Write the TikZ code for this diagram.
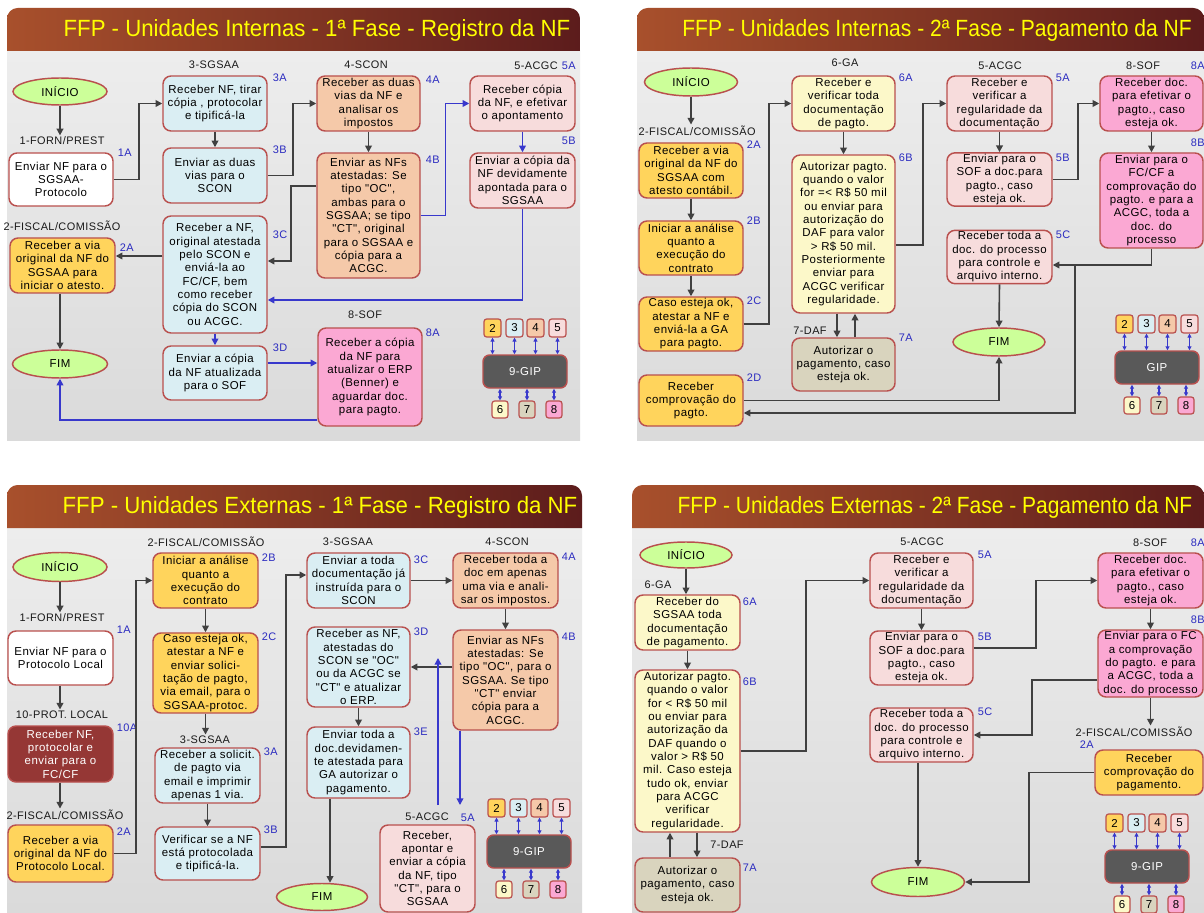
\documentclass[tikz,border=0pt]{standalone}
\usepackage{fontspec}
\setmainfont{Liberation Sans}
\newfontfamily\bxfont{Liberation Sans}[LetterSpace=4]
\usetikzlibrary{shapes.geometric,arrows.meta}
\definecolor{bord}{HTML}{B9504E}
\definecolor{corange}{HTML}{FFD45C}
\definecolor{cblue}{HTML}{DAEEF3}
\definecolor{cpeach}{HTML}{F5C9A9}
\definecolor{clpink}{HTML}{F7DCDC}
\definecolor{cpink}{HTML}{FBA8D3}
\definecolor{clyellow}{HTML}{FCF8C9}
\definecolor{ckhaki}{HTML}{D9D4BE}
\definecolor{cdred}{HTML}{953735}
\definecolor{cgreen}{HTML}{CCFF99}
\definecolor{cgip}{HTML}{595959}
\definecolor{agray}{HTML}{404040}
\definecolor{ablue}{HTML}{3838CC}
\definecolor{idblue}{HTML}{2B2BC0}
\definecolor{tleft}{HTML}{A8502C}
\definecolor{tright}{HTML}{5C1C1C}
\definecolor{tyellow}{HTML}{FFFF00}
\definecolor{bgtop}{HTML}{EDEDED}
\definecolor{bgbot}{HTML}{DADADA}
\newcommand{\bx}[7]{%
 \pgfmathsetmacro{\bxcx}{((#2)+(#4))/2}%
 \pgfmathsetmacro{\bxcy}{((#3)+(#5))/2}%
 \pgfmathsetmacro{\bxw}{((#4)-(#2))*0.75}%
 \pgfmathsetmacro{\bxh}{((#5)-(#3))*0.75}%
 \node[stepbox,#6,minimum width=\bxw pt,minimum height=\bxh pt] (#1) at (\bxcx,\bxcy) {#7};}
\newcommand{\el}[6]{%
 \pgfmathsetmacro{\bxw}{(#4)*0.75}%
 \pgfmathsetmacro{\bxh}{(#5)*0.75}%
 \node[startend,minimum width=\bxw pt,minimum height=\bxh pt] (#1) at (#2,#3) {#6};}
\newcommand{\gipc}[4]{%
 \bx{#1-gip}{#2}{#3}{#2+84}{#3+33}{gipbox}{#4}
 \bx{#1-t2}{#2+1}{#3-36}{#2+18}{#3-18}{gsq,fill=corange}{2}
 \bx{#1-t3}{#2+23}{#3-36}{#2+40}{#3-18}{gsq,fill=cblue}{3}
 \bx{#1-t4}{#2+44}{#3-36}{#2+61}{#3-18}{gsq,fill=cpeach}{4}
 \bx{#1-t5}{#2+66}{#3-36}{#2+83}{#3-18}{gsq,fill=clpink}{5}
 \bx{#1-b6}{#2+9}{#3+46}{#2+25}{#3+63}{gsq,fill=clyellow}{6}
 \bx{#1-b7}{#2+36}{#3+46}{#2+52}{#3+63}{gsq,fill=ckhaki}{7}
 \bx{#1-b8}{#2+63}{#3+46}{#2+79}{#3+63}{gsq,fill=cpink}{8}
 \foreach \q in {t2,t3,t4,t5}{\draw[dbl] (#1-\q.south) -- (#1-\q.south |- #1-gip.north);}
 \foreach \q in {b6,b7,b8}{\draw[dbl] (#1-\q.north |- #1-gip.south) -- (#1-\q.north);}
}
\newcommand{\panel}[5]{%
 \shade[top color=bgtop,bottom color=bgbot] (#1,#4) rectangle (#3,#5);
 \shade[left color=tleft,right color=tright] (#1,#4) [rounded corners=8pt] -- (#1,#2) -- (#3,#2) [sharp corners] -- (#3,#4) -- cycle;
}
\begin{document}
\begin{tikzpicture}[x=0.75pt,y=-0.75pt,
 stepbox/.style={draw=bord,line width=1.1pt,rounded corners=6pt,align=center,
   font=\bxfont\fontsize{8.6}{10}\selectfont,inner sep=1pt,text=black},
 startend/.style={ellipse,draw=bord,line width=1.1pt,fill=cgreen,
   font=\bxfont\fontsize{8.6}{10}\selectfont,inner sep=0pt},
 gsq/.style={stepbox,rounded corners=2pt,line width=0.9pt,font=\bxfont\fontsize{8.6}{10}\selectfont},
 gipbox/.style={stepbox,fill=cgip,text=white,rounded corners=5pt},
 lane/.style={font=\bxfont\fontsize{8.2}{10}\selectfont,inner sep=1pt,text=black!90},
 stepid/.style={font=\bxfont\fontsize{8.2}{10}\selectfont,text=idblue,inner sep=0.5pt,anchor=west},
 ttl/.style={text=tyellow,inner sep=0pt,font=\fontsize{17}{20}\selectfont},
 arr/.style={draw=agray,line width=1.2pt,-{Triangle[length=5pt,width=5pt]}},
 barr/.style={draw=ablue,line width=1.1pt,-{Triangle[length=5pt,width=5pt]}},
 dbl/.style={draw=ablue,line width=0.8pt,{Triangle[length=3pt,width=3pt]}-{Triangle[length=3pt,width=3pt]}}]
\useasboundingbox (0,0) rectangle (1204,913);
\fill[white] (0,0) rectangle (1204,913);

% ================= PANEL A =================
\panel{7}{8}{580}{51}{440}
\node[ttl] (a-title) at (317,30) {\resizebox{380pt}{12.75pt}{FFP - Unidades Internas - 1ª Fase - Registro da NF}};
\el{a-ini}{60}{91.5}{94}{27}{INÍCIO}
\el{a-fim}{60}{364}{95}{28}{FIM}
\node[lane] (a-h1) at (62,141) {1-FORN/PREST};
\node[lane] (a-h2) at (62,226) {2-FISCAL/COMISSÃO};
\node[lane] (a-h3) at (214,65) {3-SGSAA};
\node[lane] (a-h4) at (366,65) {4-SCON};
\node[lane] (a-h5) at (536,66) {5-ACGC};
\node[lane] (a-h8) at (365,315) {8-SOF};
\bx{a1A}{9}{153}{113}{206}{fill=white}{Enviar NF para o\\SGSAA-\\Protocolo}
\bx{a2A}{10}{238}{115}{293}{fill=corange}{Receber a via\\original da NF do\\SGSAA para\\iniciar o atesto.}
\bx{a3A}{163}{76}{267}{131}{fill=cblue}{Receber NF, tirar\\cópia , protocolar\\e tipificá-la}
\bx{a3B}{163}{148}{267}{203}{fill=cblue}{Enviar as duas\\vias para o\\SCON}
\bx{a3C}{163}{216}{267}{333}{fill=cblue}{Receber a NF,\\original atestada\\pelo SCON e\\enviá-la ao\\FC/CF, bem\\como receber\\cópia do SCON\\ou ACGC.}
\bx{a3D}{163}{346}{267}{400}{fill=cblue}{Enviar a cópia\\da NF atualizada\\para o SOF}
\bx{a4A}{317}{76}{420}{131}{fill=cpeach}{Receber as duas\\vias da NF e\\analisar os\\impostos}
\bx{a4B}{317}{153}{420}{278}{fill=cpeach}{Enviar as NFs\\atestadas: Se\\tipo "OC",\\ambas para o\\SGSAA; se tipo\\"CT", original\\para o SGSAA e\\cópia para a\\ACGC.}
\bx{a5A}{470}{76}{575}{131}{fill=clpink}{Receber cópia\\da NF, e efetivar\\o apontamento}
\bx{a5B}{470}{153}{575}{208}{fill=clpink}{Enviar a cópia da\\NF devidamente\\apontada para o\\SGSAA}
\bx{a8A}{318}{328}{422}{426}{fill=cpink}{Receber a cópia\\da NF para\\atualizar o ERP\\(Benner) e\\aguardar doc.\\para pagto.}
\node[stepid] (a-i1A) at (117,153) {1A};
\node[stepid] (a-i2A) at (119,248) {2A};
\node[stepid] (a-i3A) at (272,78) {3A};
\node[stepid] (a-i3B) at (272,150) {3B};
\node[stepid] (a-i3C) at (272,235) {3C};
\node[stepid] (a-i3D) at (272,348) {3D};
\node[stepid] (a-i4A) at (425,80) {4A};
\node[stepid] (a-i4B) at (425,160) {4B};
\node[stepid] (a-i5A) at (561,66) {5A};
\node[stepid] (a-i5B) at (561,141) {5B};
\node[stepid] (a-i8A) at (425,333) {8A};
\coordinate (a-k1) at (0,186);
\coordinate (a-k2) at (0,261);
\coordinate (a-k3) at (0,300);
\coordinate (a-k4) at (0,256);
\coordinate (a-k5) at (0,363);
\coordinate (a-k6) at (0,420);
\draw[arr] (a-ini.south) -- (a-ini.south |- a-h1.north);
\draw[arr] (a1A.east) -- ++(25,0) |- (a3A.west);
\draw[arr] (a3A.south) -- (a3B.north);
\draw[arr] (a3B.east) -- ++(25,0) |- (a4A.west);
\draw[arr] (a4A.south) -- (a4B.north);
\draw[arr] (a4B.west |- a-k1) -- ++(-25,0) |- (a3C.east |- a-k2);
\draw[barr] (a4B.east) -- ++(25,0) |- (a5A.west);
\draw[barr] (a5A.south) -- (a5B.north);
\draw[barr] (a5B.south) |- (a3C.east |- a-k3);
\draw[arr] (a3C.west |- a-k4) -- (a2A.east |- a-k4);
\draw[barr] (a3C.south) -- (a3D.north);
\draw[barr] (a3D.east |- a-k5) -- (a8A.west |- a-k5);
\draw[arr] (a-fim.north |- a2A.south) -- (a-fim.north);
\draw[barr] (a8A.west |- a-k6) -| (a-fim.south);
\gipc{a}{483}{355}{9-GIP}

% ================= PANEL B =================
\panel{637}{8}{1204}{51}{440}
\node[ttl] (b-title) at (937,30) {\resizebox{382pt}{12.75pt}{FFP - Unidades Internas - 2ª Fase - Pagamento da NF}};
\el{b-ini}{691}{82}{93}{28}{INÍCIO}
\el{b-fim}{999}{342}{92}{28}{FIM}
\node[lane,anchor=west] (b-h2) at (637,131) {2-FISCAL/COMISSÃO};
\node[lane] (b-h6) at (845,63) {6-GA};
\node[lane] (b-h7) at (810,331) {7-DAF};
\node[lane] (b-h5) at (1000,66) {5-ACGC};
\node[lane] (b-h8) at (1143,66) {8-SOF};
\bx{b2A}{639}{143}{743}{198}{fill=corange}{Receber a via\\original da NF do\\SGSAA com\\atesto contábil.}
\bx{b2B}{639}{221}{743}{275}{fill=corange}{Iniciar a análise\\quanto a\\execução do\\contrato}
\bx{b2C}{639}{297}{743}{351}{fill=corange}{Caso esteja ok,\\atestar a NF e\\enviá-la a GA\\para pagto.}
\bx{b2D}{639}{375}{743}{426}{fill=corange}{Receber\\comprovação do\\pagto.}
\bx{b6A}{792}{76}{895}{131}{fill=clyellow}{Receber e\\verificar toda\\documentação\\de pagto.}
\bx{b6B}{792}{155}{895}{313}{fill=clyellow}{Autorizar pagto.\\quando o valor\\for =< R\$ 50 mil\\ou enviar para\\autorização do\\DAF para valor\\> R\$ 50 mil.\\Posteriormente\\enviar para\\ACGC verificar\\regularidade.}
\bx{b7A}{792}{338}{895}{391}{fill=ckhaki}{Autorizar o\\pagamento, caso\\esteja ok.}
\bx{b5A}{947}{76}{1052}{131}{fill=clpink}{Receber e\\verificar a\\regularidade da\\documentação}
\bx{b5B}{947}{153}{1052}{206}{fill=clpink}{Enviar para o\\SOF a doc.para\\pagto., caso\\esteja ok.}
\bx{b5C}{947}{231}{1052}{283}{fill=clpink}{Receber toda a\\doc. do processo\\para controle e\\arquivo interno.}
\bx{b8A}{1100}{76}{1203}{131}{fill=cpink}{Receber doc.\\para efetivar o\\pagto., caso\\esteja ok.}
\bx{b8B}{1100}{153}{1203}{248}{fill=cpink}{Enviar para o\\FC/CF a\\comprovação do\\pagto. e para a\\ACGC, toda a\\doc. do\\processo}
\node[stepid] (b-i2A) at (746,145) {2A};
\node[stepid] (b-i2B) at (746,221) {2B};
\node[stepid] (b-i2C) at (746,301) {2C};
\node[stepid] (b-i2D) at (746,378) {2D};
\node[stepid] (b-i6A) at (898,78) {6A};
\node[stepid] (b-i6B) at (898,158) {6B};
\node[stepid] (b-i7A) at (898,338) {7A};
\node[stepid] (b-i5A) at (1055,78) {5A};
\node[stepid] (b-i5B) at (1055,158) {5B};
\node[stepid] (b-i5C) at (1055,235) {5C};
\node[stepid] (b-i8A) at (1190,66) {8A};
\node[stepid] (b-i8B) at (1190,143) {8B};
\coordinate (b-k1) at (0,245);
\coordinate (b-k2) at (837,0);
\coordinate (b-k3) at (855,0);
\coordinate (b-k4) at (0,265);
\coordinate (b-br) at (1075,265);
\coordinate (b-k5) at (0,413);
\draw[arr] (b-ini.south) -- (b-ini.south |- b-h2.north);
\draw[arr] (b2A.south) -- (b2B.north);
\draw[arr] (b2B.south) -- (b2C.north);
\draw[arr] (b2C.east) -- ++(25,0) |- (b6A.west);
\draw[arr] (b6A.south) -- (b6B.north);
\draw[arr] (b6B.east |- b-k1) -- ++(27,0) |- (b5A.west);
\draw[arr] (b6B.south -| b-k2) -- (b7A.north -| b-k2);
\draw[arr] (b7A.north -| b-k3) -- (b6B.south -| b-k3);
\draw[arr] (b5A.south) -- (b5B.north);
\draw[arr] (b5B.east) -- ++(25,0) |- (b8A.west);
\draw[arr] (b8A.south) -- (b8B.north);
\draw[arr] (b8B.south) |- (b5C.east |- b-k4);
\draw[arr] (b-br) |- (b2D.east |- b-k5);
\draw[arr] (b5C.south) -- (b-fim.north);
\draw[arr] (b2D.east) -| (b-fim.south);
\gipc{b}{1115}{351}{GIP}

% ================= PANEL C =================
\panel{7}{485}{582}{528}{913}
\node[ttl] (c-title) at (320,507) {\resizebox{386pt}{12.75pt}{FFP - Unidades Externas - 1ª Fase - Registro da NF}};
\el{c-ini}{60}{567}{94}{29}{INÍCIO}
\el{c-fim}{322}{897}{91}{27}{FIM}
\node[lane] (c-h1) at (62,618) {1-FORN/PREST};
\node[lane] (c-h10) at (62,715) {10-PROT. LOCAL};
\node[lane] (c-h2) at (65,815) {2-FISCAL/COMISSÃO};
\node[lane] (c-h2b) at (206,542) {2-FISCAL/COMISSÃO};
\node[lane] (c-h3) at (205,740) {3-SGSAA};
\node[lane] (c-h3b) at (348,542) {3-SGSAA};
\node[lane] (c-h4) at (507,542) {4-SCON};
\node[lane] (c-h5) at (427,817) {5-ACGC};
\bx{c1A}{8}{631}{113}{685}{fill=white}{Enviar NF para o\\Protocolo Local}
\bx{c10A}{8}{726}{113}{782}{fill=cdred,text=white}{Receber NF,\\protocolar e\\enviar para o\\FC/CF}
\bx{c2A}{8}{825}{113}{882}{fill=corange}{Receber a via\\original da NF do\\Protocolo Local.}
\bx{c2B}{153}{553}{258}{608}{fill=corange}{Iniciar a análise\\quanto a\\execução do\\contrato}
\bx{c2C}{153}{633}{258}{713}{fill=corange}{Caso esteja ok,\\atestar a NF e\\enviar solici-\\tação de pagto,\\via email, para o\\SGSAA-protoc.}
\bx{c3A}{155}{748}{260}{803}{fill=cblue}{Receber a solicit.\\de pagto via\\email e imprimir\\apenas 1 via.}
\bx{c3B}{155}{827}{260}{880}{fill=cblue}{Verificar se a NF\\está protocolada\\e tipificá-la.}
\bx{c3C}{307}{553}{410}{608}{fill=cblue}{Enviar a toda\\documentação já\\instruída para o\\SCON}
\bx{c3D}{307}{627}{410}{707}{fill=cblue}{Receber as NF,\\atestadas do\\SCON se "OC"\\ou da ACGC se\\"CT" e atualizar\\o ERP.}
\bx{c3E}{307}{727}{410}{798}{fill=cblue}{Enviar toda a\\doc.devidamen-\\te atestada para\\GA autorizar o\\pagamento.}
\bx{c4A}{453}{553}{558}{608}{fill=cpeach}{Receber toda a\\doc em apenas\\uma via e anali-\\sar os impostos.}
\bx{c4B}{453}{630}{558}{730}{fill=cpeach}{Enviar as NFs\\atestadas: Se\\tipo "OC", para o\\SGSAA. Se tipo\\"CT" enviar\\cópia para a\\ACGC.}
\bx{c5A}{380}{825}{475}{912}{fill=clpink}{Receber,\\apontar e\\enviar a cópia\\da NF, tipo\\"CT", para o\\SGSAA}
\node[stepid] (c-i1A) at (116,630) {1A};
\node[stepid] (c-i10A) at (116,728) {10A};
\node[stepid] (c-i2A) at (116,832) {2A};
\node[stepid] (c-i2B) at (261,558) {2B};
\node[stepid] (c-i2C) at (261,637) {2C};
\node[stepid] (c-i3A) at (263,752) {3A};
\node[stepid] (c-i3B) at (263,830) {3B};
\node[stepid] (c-i3C) at (413,560) {3C};
\node[stepid] (c-i3D) at (413,632) {3D};
\node[stepid] (c-i3E) at (413,732) {3E};
\node[stepid] (c-i4A) at (561,557) {4A};
\node[stepid] (c-i4B) at (561,637) {4B};
\node[stepid] (c-i5A) at (460,818) {5A};
\coordinate (c-k1) at (0,847);
\coordinate (c-k2) at (0,575);
\coordinate (c-k5) at (330,0);
\coordinate (c-e1) at (460,805);
\coordinate (c-e2) at (438,805);
\coordinate (c-e3) at (438,658);
\draw[arr] (c-ini.south) -- (c-ini.south |- c-h1.north);
\draw[arr] (c1A.south -| c-ini) -- (c-h10.north -| c-ini);
\draw[arr] (c10A.south -| c-ini) -- (c-h2.north -| c-ini);
\draw[arr] (c2A.east) -- ++(22,0) |- (c2B.west);
\draw[arr] (c2B.south) -- (c2C.north);
\draw[arr] (c2C.south) -- (c2C.south |- c-h3.north);
\draw[arr] (c3A.south) -- (c3B.north);
\draw[arr] (c3B.east |- c-k1) -- ++(25,0) |- (c3C.west |- c-k2);
\draw[arr] (c3C.east) -- (c4A.west);
\draw[arr] (c4A.south) -- (c4B.north);
\draw[arr] (c4B.west |- c3D.east) -- (c3D.east);
\draw[arr] (c3D.south) -- (c3E.north);
\draw[arr] (c3E.south -| c-k5) -- (c-fim.north -| c-k5);
\draw[barr] (c4B.south -| c-e1) -- (c-e1);
\draw[barr] (c-e2) -- (c-e3);
\gipc{c}{487}{835}{9-GIP}

% ================= PANEL D =================
\panel{632}{485}{1204}{528}{913}
\node[ttl] (d-title) at (935,507) {\resizebox{386pt}{12.75pt}{FFP - Unidades Externas - 2ª Fase - Pagamento da NF}};
\el{d-ini}{686}{555}{92}{26}{INÍCIO}
\el{d-fim}{918}{882}{93}{29}{FIM}
\node[lane] (d-h6) at (658,585) {6-GA};
\node[lane] (d-h7) at (727,845) {7-DAF};
\node[lane] (d-h5) at (922,542) {5-ACGC};
\node[lane] (d-h8) at (1150,543) {8-SOF};
\node[lane] (d-h2) at (1134,732) {2-FISCAL/COMISSÃO};
\bx{d6A}{635}{595}{740}{650}{fill=clyellow}{Receber do\\SGSAA toda\\documentação\\de pagamento.}
\bx{d6B}{635}{670}{740}{832}{fill=clyellow}{Autorizar pagto.\\quando o valor\\for < R\$ 50 mil\\ou enviar para\\autorização da\\DAF quando o\\valor > R\$ 50\\mil. Caso esteja\\tudo ok, enviar\\para ACGC\\verificar\\regularidade.}
\bx{d7A}{635}{858}{740}{912}{fill=ckhaki}{Autorizar o\\pagamento, caso\\esteja ok.}
\bx{d5A}{870}{553}{973}{608}{fill=clpink}{Receber e\\verificar a\\regularidade da\\documentação}
\bx{d5B}{870}{631}{973}{685}{fill=clpink}{Enviar para o\\SOF a doc.para\\pagto., caso\\esteja ok.}
\bx{d5C}{870}{708}{973}{762}{fill=clpink}{Receber toda a\\doc. do processo\\para controle e\\arquivo interno.}
\bx{d8A}{1098}{553}{1203}{608}{fill=cpink}{Receber doc.\\para efetivar o\\pagto., caso\\esteja ok.}
\bx{d8B}{1098}{630}{1203}{697}{fill=cpink}{Enviar para o FC\\a comprovação\\do pagto. e para\\a ACGC, toda a\\doc. do processo}
\bx{d2A}{1095}{750}{1203}{795}{fill=corange}{Receber\\comprovação do\\pagamento.}
\node[stepid] (d-i6A) at (742,602) {6A};
\node[stepid] (d-i6B) at (742,682) {6B};
\node[stepid] (d-i7A) at (742,868) {7A};
\node[stepid] (d-i5A) at (977,555) {5A};
\node[stepid] (d-i5B) at (977,637) {5B};
\node[stepid] (d-i5C) at (977,712) {5C};
\node[stepid] (d-i8A) at (1190,543) {8A};
\node[stepid] (d-i8B) at (1190,620) {8B};
\node[stepid] (d-i2A) at (1079,745) {2A};
\coordinate (d-k1) at (0,648);
\coordinate (d-k2) at (0,680);
\coordinate (d-k3) at (670,0);
\coordinate (d-k4) at (697,0);
\draw[arr] (d-ini.south) -- (d-ini.south |- d6A.north);
\draw[arr] (d6A.south) -- (d6B.north);
\draw[arr] (d6B.east) -- ++(65,0) |- (d5A.west);
\draw[arr] (d7A.north -| d-k3) -- (d6B.south -| d-k3);
\draw[arr] (d6B.south -| d-k4) -- (d7A.north -| d-k4);
\draw[arr] (d5A.south) -- (d5B.north);
\draw[arr] (d5B.east |- d-k1) -- ++(62,0) |- (d8A.west);
\draw[arr] (d8A.south) -- (d8B.north);
\draw[arr] (d8B.south) -- (d8B.south |- d-h2.north);
\draw[arr] (d8B.west |- d-k2) -- ++(-65,0) |- (d5C.east);
\draw[arr] (d-fim.north |- d5C.south) -- (d-fim.north);
\draw[arr] (d2A.west) -- ++(-65,0) |- (d-fim.east);
\gipc{d}{1105}{850}{9-GIP}
\end{tikzpicture}
\end{document}
